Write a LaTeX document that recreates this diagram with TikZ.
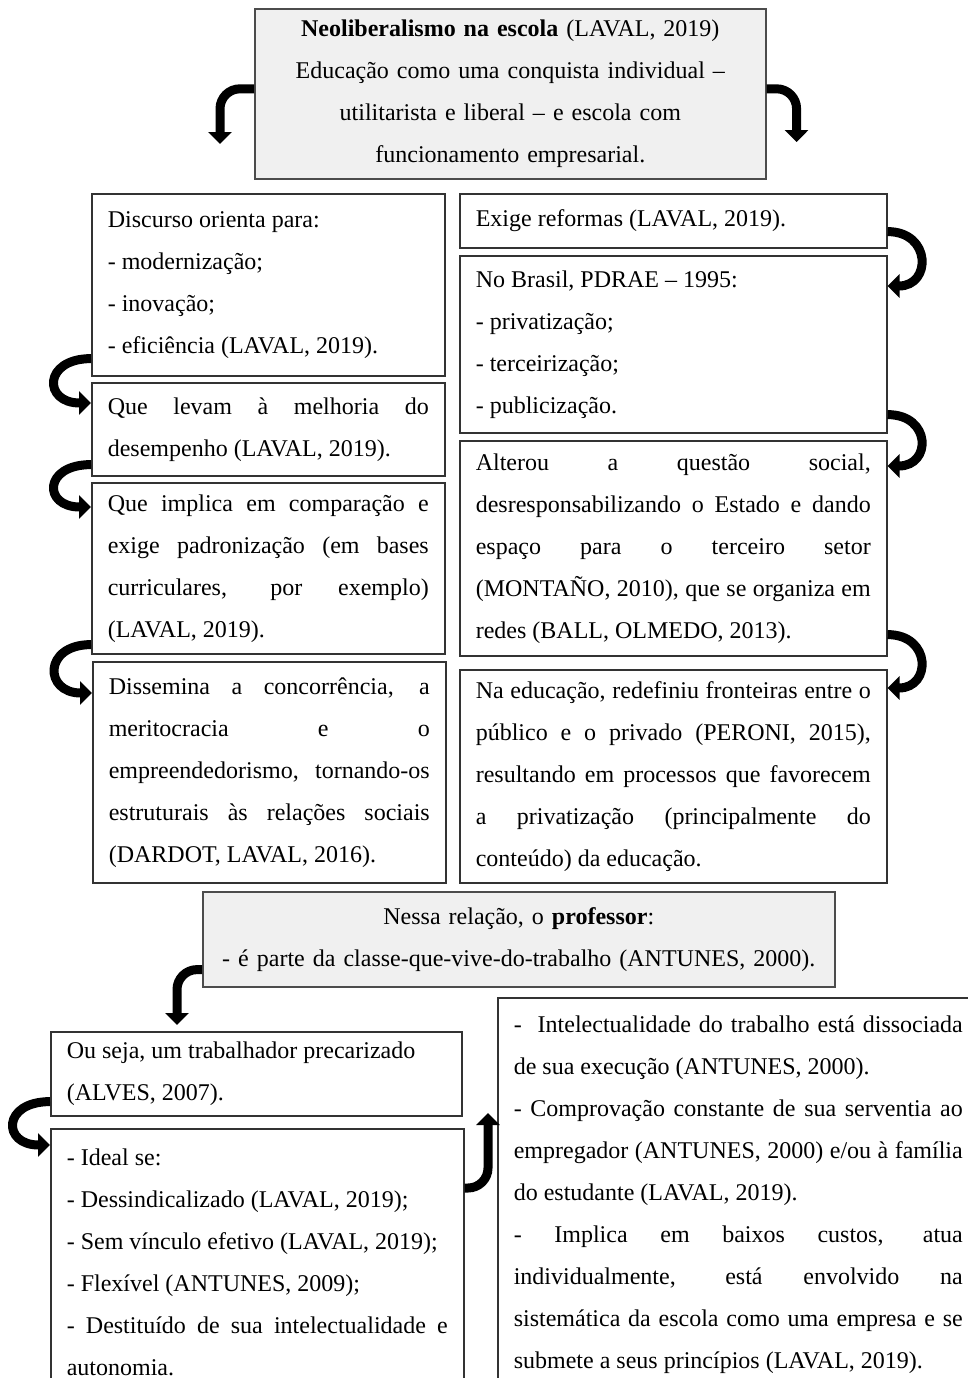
\documentclass[tikz,border=0pt]{standalone}
\usepackage{fontspec}
\setmainfont{Liberation Serif}
\usetikzlibrary{arrows.meta}
\hyphenpenalty=10000
\exhyphenpenalty=10000
\tolerance=10000
\begin{document}
\begin{tikzpicture}[x=0.5pt,y=-0.5pt,
	caixa/.style={draw=black!80,line width=0.8pt,anchor=north west,align=justify,inner xsep=8pt,inner ysep=0pt,font=\fontsize{12}{21}\selectfont},
	cinza/.style={caixa,fill=black!6,draw=black!70,align=center},
	seta/.style={line width=4.5pt,-{Triangle[width=11.5pt,length=6pt]}}]
		\useasboundingbox (0,0) rectangle (968,1378);
		\clip (0,0) rectangle (968,1378);
		
		\node[cinza,text width=239.5pt,minimum height=85pt] (neolib) at(254,8) {\textbf{Neoliberalismo na escola} (LAVAL, 2019)\\Educação como uma conquista individual --\\utilitarista e liberal -- e escola com\\funcionamento empresarial.};
		
		\node[caixa,text width=160.5pt,minimum height=91pt] (disc) at(91,193) {Discurso orienta para:\\- modernização;\\- inovação;\\- eficiência (LAVAL, 2019).};
		\node[caixa,text width=160.5pt,minimum height=46.5pt] (melhoria) at(91,382) {Que levam à melhoria do\linebreak desempenho (LAVAL, 2019).};
		\node[caixa,text width=160.5pt,minimum height=85.5pt] (padron) at(91,482) {Que implica em comparação e\linebreak exige padronização (em bases\linebreak curriculares, por exemplo)\linebreak (LAVAL, 2019).};
		\node[caixa,text width=160.5pt,minimum height=110.5pt] (merito) at(92,661) {Dissemina a concorrência, a\linebreak meritocracia e o\linebreak empreendedorismo, tornando-os\linebreak estruturais às relações sociais\linebreak (DARDOT, LAVAL, 2016).};
		
		\node[caixa,text width=197.5pt,minimum height=27pt] (reformas) at(459,193) {Exige reformas (LAVAL, 2019).};
		\node[caixa,text width=197.5pt,minimum height=88.5pt] (pdrae) at(459,255) {No Brasil, PDRAE -- 1995:\\- privatização;\\- terceirização;\\- publicização.};
		\node[caixa,text width=197.5pt,minimum height=107.5pt] (social) at(459,440) {Alterou a questão social,\linebreak desresponsabilizando o Estado e dando\linebreak espaço para o terceiro setor\linebreak (MONTAÑO, 2010), que se organiza em\linebreak redes (BALL, OLMEDO, 2013).};
		\node[caixa,text width=197.5pt,minimum height=106.5pt] (educ) at(459,669) {Na educação, redefiniu fronteiras entre o\linebreak público e o privado (PERONI, 2015),\linebreak resultando em processos que favorecem\linebreak a privatização (principalmente do\linebreak conteúdo) da educação.};
		
		\node[cinza,text width=300pt,minimum height=47.5pt] (prof) at(202,891) {Nessa relação, o \textbf{professor}:\\- é parte da classe-que-vive-do-trabalho (ANTUNES, 2000).};
		
		\node[caixa,text width=189.5pt,minimum height=42pt] (precar) at(50,1031) {Ou seja, um trabalhador precarizado\\(ALVES, 2007).};
		\node[caixa,text width=190.5pt,minimum height=133.5pt] (ideal) at(50,1128) {- Ideal se:\\- Dessindicalizado (LAVAL, 2019);\\- Sem vínculo efetivo (LAVAL, 2019);\\- Flexível (ANTUNES, 2009);\\- Destituído de sua intelectualidade e\linebreak autonomia.};
		\node[caixa,text width=224.5pt,minimum height=197pt] (intelect) at(497,997) {-\ \ Intelectualidade do trabalho está dissociada\linebreak de sua execução (ANTUNES, 2000).\\- Comprovação constante de sua serventia ao\linebreak empregador (ANTUNES, 2000) e/ou à família\linebreak do estudante (LAVAL, 2019).\\- Implica em baixos custos, atua\linebreak individualmente, está envolvido na\linebreak sistemática da escola como uma empresa e se\linebreak submete a seus princípios (LAVAL, 2019).};
		
		\draw[seta,rounded corners=10pt] ([yshift=2.5pt]neolib.west) -| ([xshift=64.5pt,yshift=24.5pt]disc.north west);
		\draw[seta,rounded corners=10pt] ([yshift=2.5pt]neolib.east) -| ([xshift=-45.5pt,yshift=25.5pt]reformas.north east);
		
		\draw[seta] ([yshift=9pt]disc.south west) .. controls +(-24pt,0) and +(-24pt,0) .. ([yshift=-10.5pt]melhoria.north west);
		\draw[seta] ([yshift=6pt]melhoria.south west) .. controls +(-24pt,0) and +(-24pt,0) .. ([yshift=-12.5pt]padron.north west);
		\draw[seta] ([yshift=5pt]padron.south west) .. controls +(-24pt,0) and +(-24pt,0) .. ([yshift=-16pt]merito.north west);
		
		\draw[seta] ([yshift=8.5pt]reformas.south east) .. controls +(22pt,0) and +(22pt,0) .. ([yshift=-15.5pt]pdrae.north east);
		\draw[seta] ([yshift=9.5pt]pdrae.south east) .. controls +(22pt,0) and +(22pt,0) .. ([yshift=-13pt]social.north east);
		\draw[seta] ([yshift=11pt]social.south east) .. controls +(22pt,0) and +(22pt,0) .. ([yshift=-9.5pt]educ.north east);
		
		\draw[seta,rounded corners=10pt] ([yshift=9pt]prof.south west) -| ([xshift=63.5pt,yshift=3pt]precar.north west);
		\draw[seta] ([yshift=7.5pt]precar.south west) .. controls +(-24pt,0) and +(-24pt,0) .. ([yshift=-8.5pt]ideal.north west);
		\draw[seta,rounded corners=10pt] ([yshift=-30pt]ideal.north east) -| ([xshift=-4.5pt,yshift=-58pt]intelect.north west);
		\end{tikzpicture}
\end{document}
